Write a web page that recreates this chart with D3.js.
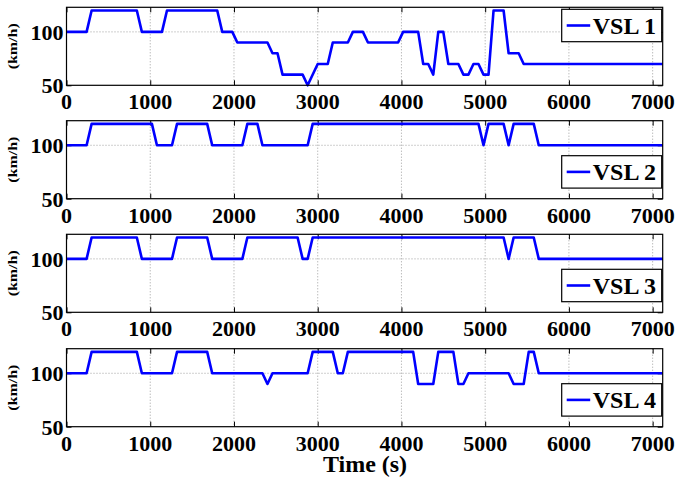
<!DOCTYPE html>
<html>
<head>
<meta charset="utf-8">
<script src="https://cdn.jsdelivr.net/npm/d3@7"></script>
<style>
  body { margin: 0; background: #fff; }
</style>
</head>
<body>
<div id="chart"></div>
<script>
// VSL speed limits (km/h) at breakpoints in time (s)
const t1 = [0, 240, 300, 840, 900, 1140, 1200, 1800, 1860, 1980, 2040, 2400, 2460, 2520, 2580, 2820, 2880, 3000, 3120, 3180, 3360, 3420, 3540, 3600, 3960, 4020, 4200, 4260, 4320, 4380, 4440, 4500, 4560, 4680, 4740, 4800, 4860, 4920, 4980, 5040, 5100, 5220, 5280, 5400, 5460, 7120];
const v1 = [100, 100, 120, 120, 100, 100, 120, 120, 100, 100, 90, 90, 80, 80, 60, 60, 50, 70, 70, 90, 90, 100, 100, 90, 90, 100, 100, 70, 70, 60, 100, 100, 70, 70, 60, 60, 70, 70, 60, 60, 120, 120, 80, 80, 70, 70];

const t2 = [0, 240, 300, 1020, 1080, 1260, 1320, 1680, 1740, 2100, 2160, 2280, 2340, 2880, 2940, 4920, 4980, 5040, 5220, 5280, 5340, 5580, 5640, 7120];
const v2 = [100, 100, 120, 120, 100, 100, 120, 120, 100, 100, 120, 120, 100, 100, 120, 120, 100, 120, 120, 100, 120, 120, 100, 100];

const t3 = [0, 240, 300, 840, 900, 1260, 1320, 1680, 1740, 2100, 2160, 2760, 2820, 2880, 2940, 5220, 5280, 5340, 5580, 5640, 7120];
const v3 = [100, 100, 120, 120, 100, 100, 120, 120, 100, 100, 120, 120, 100, 100, 120, 120, 100, 120, 120, 100, 100];

const t4 = [0, 240, 300, 840, 900, 1260, 1320, 1680, 1740, 2340, 2400, 2460, 2880, 2940, 3180, 3240, 3300, 3360, 4140, 4200, 4380, 4440, 4620, 4680, 4740, 4800, 5280, 5340, 5460, 5520, 5580, 5640, 7120];
const v4 = [100, 100, 120, 120, 100, 100, 120, 120, 100, 100, 90, 100, 100, 120, 120, 100, 100, 120, 120, 90, 90, 120, 120, 90, 90, 100, 100, 90, 90, 120, 120, 100, 100];

const seriesNames = ["VSL 1", "VSL 2", "VSL 3", "VSL 4"];
const seriesTimes = [t1, t2, t3, t4];
const seriesValues = [v1, v2, v3, v4];
const xTicks = [0, 1000, 2000, 3000, 4000, 5000, 6000, 7000];
const yTicks = [50, 100];

const width = 678, height = 478;
const left = 66.5, right = 662.7, panelH = 78;
const panelTops = [7.3, 120.7, 234.3, 348.7];
const legendTop = [true, false, false, false];
const serif = "'Liberation Serif', 'Times New Roman', Times, serif";

const svg = d3.select("#chart").append("svg")
    .attr("width", width)
    .attr("height", height)
    .attr("font-family", serif)
    .attr("font-weight", "bold");

const x = d3.scaleLinear().domain([0, 7120]).range([left, right]);

seriesNames.forEach((name, i) => {
  const top = panelTops[i];
  const y = d3.scaleLinear().domain([50, 123]).range([top + panelH, top]);
  const g = svg.append("g");

  // dotted grid
  g.selectAll(".gx").data(xTicks.slice(1))
    .join("line")
      .attr("x1", d => x(d)).attr("x2", d => x(d))
      .attr("y1", top).attr("y2", top + panelH)
      .attr("stroke", "#888").attr("stroke-width", 0.8)
      .attr("stroke-dasharray", "1,2");
  g.append("line")
      .attr("x1", left).attr("x2", right)
      .attr("y1", y(100)).attr("y2", y(100))
      .attr("stroke", "#888").attr("stroke-width", 0.8)
      .attr("stroke-dasharray", "1,2");

  // inside ticks (matlab style)
  g.append("g")
      .attr("transform", `translate(0,${top + panelH})`)
      .call(d3.axisTop(x).tickValues(xTicks).tickSize(5).tickFormat(""))
      .call(a => a.select(".domain").remove());
  g.append("g")
      .attr("transform", `translate(0,${top})`)
      .call(d3.axisBottom(x).tickValues(xTicks).tickSize(5).tickFormat(""))
      .call(a => a.select(".domain").remove());
  g.append("g")
      .attr("transform", `translate(${left},0)`)
      .call(d3.axisRight(y).tickValues(yTicks).tickSize(5).tickFormat(""))
      .call(a => a.select(".domain").remove());
  g.append("g")
      .attr("transform", `translate(${right},0)`)
      .call(d3.axisLeft(y).tickValues(yTicks).tickSize(5).tickFormat(""))
      .call(a => a.select(".domain").remove());

  // data line
  const pts = seriesTimes[i].map((t, k) => [t, seriesValues[i][k]]);
  g.append("path")
      .datum(pts)
      .attr("fill", "none")
      .attr("stroke", "#0000ff")
      .attr("stroke-width", 2.6)
      .attr("stroke-linejoin", "round")
      .attr("d", d3.line().x(d => x(d[0])).y(d => y(d[1])));

  // box
  g.append("rect")
      .attr("x", left).attr("y", top)
      .attr("width", right - left).attr("height", panelH)
      .attr("fill", "none").attr("stroke", "#000").attr("stroke-width", 1.2);

  // tick labels
  g.selectAll(".xl").data(xTicks)
    .join("text")
      .attr("x", d => x(d)).attr("y", top + panelH + 24)
      .attr("text-anchor", "middle")
      .attr("font-size", 22)
      .text(d => d);
  g.selectAll(".yl").data(yTicks)
    .join("text")
      .attr("x", left - 3).attr("y", d => y(d) + 8)
      .attr("text-anchor", "end")
      .attr("font-size", 22)
      .text(d => d);

  // y label
  g.append("text")
      .attr("transform", `translate(17,${top + panelH / 2}) rotate(-90)`)
      .attr("text-anchor", "middle")
      .attr("font-size", 13)
      .attr("textLength", 46)
      .attr("lengthAdjust", "spacingAndGlyphs")
      .text("(km/h)");

  // legend
  const ly = legendTop[i] ? top + 2 : top + 35;
  const lg = g.append("g").attr("transform", `translate(561.7,${ly})`);
  lg.append("rect")
      .attr("width", 100).attr("height", 32.4)
      .attr("fill", "#fff").attr("stroke", "#000").attr("stroke-width", 1.2);
  lg.append("line")
      .attr("x1", 5).attr("x2", 28.5)
      .attr("y1", 16.2).attr("y2", 16.2)
      .attr("stroke", "#0000ff").attr("stroke-width", 2.6);
  lg.append("text")
      .attr("x", 31).attr("y", 24.5)
      .attr("font-size", 24)
      .text(name);
});

svg.append("text")
    .attr("x", 365).attr("y", 472)
    .attr("text-anchor", "middle")
    .attr("font-size", 24)
    .text("Time (s)");
</script>
</body>
</html>
